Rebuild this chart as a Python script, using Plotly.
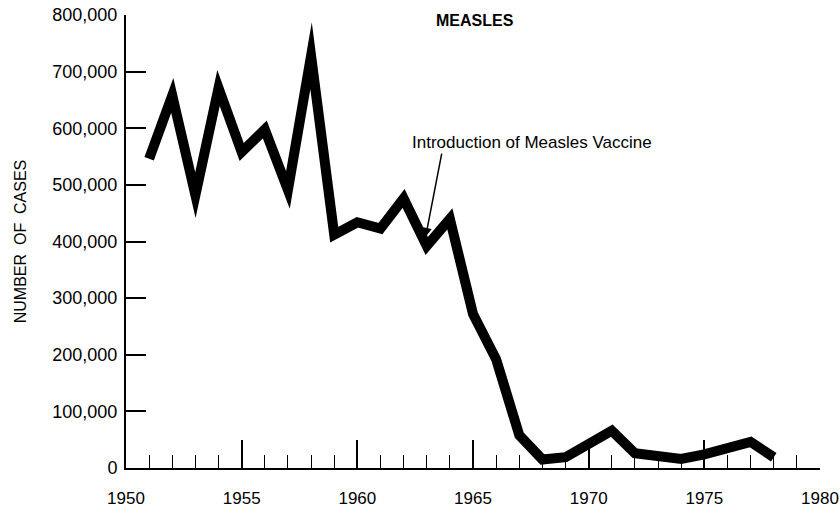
import plotly.graph_objects as go

years = list(range(1951, 1979))
cases = [546000, 658000, 482000, 671000, 558000, 598000, 491000, 728000,
         412000, 434000, 423000, 476000, 392000, 440000, 272000, 192000,
         58000, 15000, 19000, 42000, 66000, 26000, 20000, 16000,
         24000, 36000, 46000, 19000]

x_ticks = [1950, 1955, 1960, 1965, 1970, 1975, 1980]
y_ticks = [0, 100000, 200000, 300000, 400000, 500000, 600000, 700000, 800000]

title_text = "MEASLES"
annot_text = "Introduction of Measles Vaccine"
y_title = "NUMBER\u00a0\u00a0OF\u00a0\u00a0CASES"

font_family = "Liberation Sans, Arial, Helvetica, sans-serif"

fig = go.Figure()
fig.add_trace(go.Scatter(
    x=years, y=cases, mode="lines",
    line=dict(color="black", width=10),
    hoverinfo="skip", showlegend=False,
))

fig.update_layout(
    template="none",
    width=840, height=508,
    margin=dict(l=126, r=20, t=15, b=40, pad=0),
    paper_bgcolor="white", plot_bgcolor="white",
    font=dict(family=font_family, color="black", size=17),
    showlegend=False,
)

fig.update_xaxes(
    range=[1950, 1980], tickvals=x_ticks, ticktext=[str(v) for v in x_ticks],
    showgrid=False, zeroline=False, automargin=False,
    showline=True, linecolor="black", linewidth=2,
    ticks="inside", ticklen=28, tickwidth=1.5, tickcolor="black",
    ticklabelstandoff=14,
    minor=dict(dtick=1, tick0=1950, ticks="inside", ticklen=13, tickwidth=1,
               tickcolor="black", showgrid=False),
    tickfont=dict(size=17),
    fixedrange=True,
)
fig.update_yaxes(
    range=[0, 800000], tickvals=y_ticks, tickformat=",d",
    showgrid=False, zeroline=False, automargin=False,
    showline=True, linecolor="black", linewidth=2,
    ticks="inside", ticklen=20, tickwidth=2, tickcolor="black",
    ticklabelstandoff=3,
    tickfont=dict(size=18),
    title=dict(text=y_title, font=dict(size=16), standoff=22),
    fixedrange=True,
)

# Title
fig.add_annotation(
    text="<b>" + title_text + "</b>", xref="paper", yref="paper",
    x=(475 - 126) / 694, y=(468 - 21) / 453, xanchor="center", yanchor="middle",
    showarrow=False, font=dict(size=16),
)

# Annotation text
fig.add_annotation(
    text=annot_text, xref="x", yref="y",
    x=1967.55, y=574000, xanchor="center", yanchor="middle",
    showarrow=False, font=dict(size=17),
)
# Arrow
fig.add_annotation(
    x=1962.95, y=408000, ax=1963.66, ay=558000,
    xref="x", yref="y", axref="x", ayref="y",
    text="", showarrow=True, arrowhead=2, arrowsize=1.2, arrowwidth=1.5,
    arrowcolor="black", standoff=0,
)

post = (
    "document.body.style.margin='0';"
    "document.querySelectorAll('.js-line').forEach(function(p){"
    "p.style.strokeLinejoin='miter';p.style.strokeMiterlimit='10';});"
)
fig.write_html("out.html", config={"displayModeBar": False}, post_script=post)
